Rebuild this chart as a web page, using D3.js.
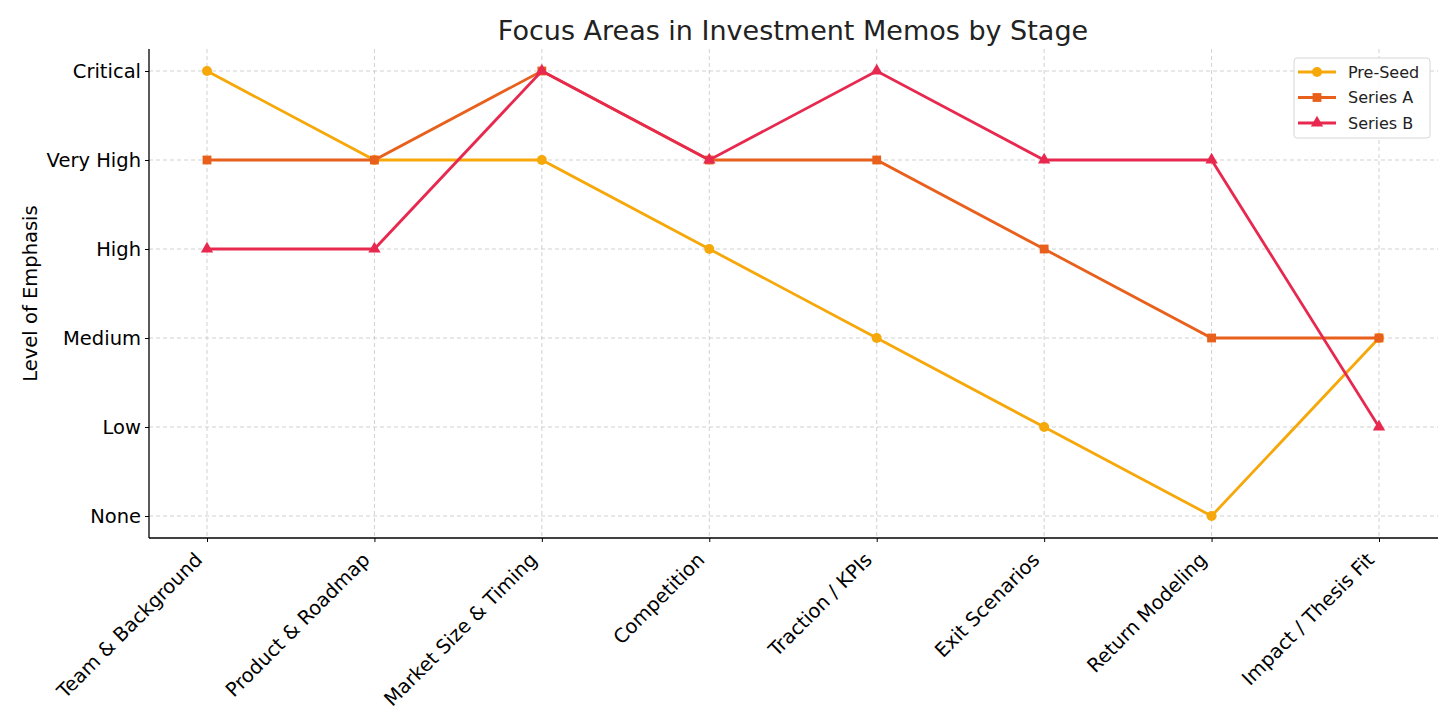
<!DOCTYPE html>
<html>
<head>
<meta charset="utf-8">
<script src="https://cdn.jsdelivr.net/npm/d3@7"></script>
<style>
  body { margin: 0; background: #fff; }
  svg, svg text { font-family: "DejaVu Sans", sans-serif; }
</style>
</head>
<body>
<svg id="chart" width="1456" height="728"></svg>
<script>
const categories = ["Team & Background", "Product & Roadmap", "Market Size & Timing", "Competition",
    "Traction / KPIs", "Exit Scenarios", "Return Modeling", "Impact / Thesis Fit"];
const levels = ["None", "Low", "Medium", "High", "Very High", "Critical"];
const preSeed = [5, 4, 4, 3, 2, 1, 0, 2];
const seriesA = [4, 4, 5, 4, 4, 3, 2, 2];
const seriesB = [3, 3, 5, 4, 5, 4, 4, 1];

const series = [
    { name: "Pre-Seed", values: preSeed, color: "#f6a80a", symbol: d3.symbolCircle },
    { name: "Series A", values: seriesA, color: "#e8601c", symbol: d3.symbolSquare },
    { name: "Series B", values: seriesB, color: "#e8294f", symbol: d3.symbolTriangle }
];

const svg = d3.select("#chart");
const plotLeft = 149, plotRight = 1438, plotTop = 49, plotBottom = 538;

const x = d3.scalePoint().domain(categories).range([207, 1379]);
const y = d3.scaleLinear().domain([0, 5]).range([516, 71]);

// grid
const grid = svg.append("g").attr("stroke", "#cccccc").attr("stroke-width", 0.9).attr("stroke-dasharray", "4,3");
grid.selectAll("line.v").data(categories).enter().append("line")
    .attr("x1", d => x(d)).attr("x2", d => x(d)).attr("y1", plotTop).attr("y2", plotBottom);
grid.selectAll("line.h").data(levels).enter().append("line")
    .attr("x1", plotLeft).attr("x2", plotRight).attr("y1", (d, i) => y(i)).attr("y2", (d, i) => y(i));

// axes
const xAxis = svg.append("g").attr("transform", `translate(0,${plotBottom})`)
    .call(d3.axisBottom(x).tickSizeOuter(0).tickSize(4).tickPadding(7));
xAxis.attr("font-family", "DejaVu Sans");
xAxis.select(".domain").attr("d", `M${plotLeft},0H${plotRight}`).attr("stroke", "#000").attr("stroke-width", 1.3);
xAxis.selectAll("text")
    .attr("font-size", 19.5).attr("fill", "#000")
    .attr("text-anchor", "end")
    .attr("y", 0).attr("dy", 0)
    .attr("transform", "translate(-4,23) rotate(-45)");

const yAxis = svg.append("g").attr("transform", `translate(${plotLeft},0)`)
    .call(d3.axisLeft(y).tickValues(d3.range(6)).tickFormat(i => levels[i]).tickSize(4).tickPadding(4).tickSizeOuter(0));
yAxis.attr("font-family", "DejaVu Sans");
yAxis.select(".domain").attr("d", `M0,${plotTop}V${plotBottom}`).attr("stroke", "#000").attr("stroke-width", 1.3);
yAxis.selectAll("text").attr("font-size", 19.5).attr("fill", "#000");

// lines
const line = d3.line().x((d, i) => x(categories[i])).y(d => y(d));
series.forEach(s => {
    svg.append("path").datum(s.values)
        .attr("d", line).attr("fill", "none")
        .attr("stroke", s.color).attr("stroke-width", 2.8);
    svg.selectAll(null).data(s.values).enter().append("path")
        .attr("d", d3.symbol().type(s.symbol).size(s.symbol === d3.symbolTriangle ? 66 : 78))
        .attr("transform", (d, i) => `translate(${x(categories[i])},${y(d)})`)
        .attr("fill", s.color);
});

// title and label
svg.append("text").attr("x", 793).attr("y", 40).attr("text-anchor", "middle")
    .attr("font-size", 27).attr("fill", "#222").text("Focus Areas in Investment Memos by Stage");
svg.append("text").attr("transform", `translate(37,${(plotTop + plotBottom) / 2}) rotate(-90)`)
    .attr("text-anchor", "middle").attr("font-size", 19.5).attr("fill", "#000").text("Level of Emphasis");

// legend
const legend = svg.append("g").attr("transform", "translate(1294,58)");
legend.append("rect").attr("width", 136).attr("height", 80).attr("rx", 3)
    .attr("fill", "#fff").attr("fill-opacity", 0.85).attr("stroke", "#d6d6d6");
series.forEach((s, i) => {
    const g = legend.append("g").attr("transform", `translate(0,${14 + i * 25.5})`);
    g.append("line").attr("x1", 4).attr("x2", 42).attr("stroke", s.color).attr("stroke-width", 2.8);
    g.append("path").attr("d", d3.symbol().type(s.symbol).size(s.symbol === d3.symbolTriangle ? 66 : 78))
        .attr("transform", "translate(23,0)").attr("fill", s.color);
    g.append("text").attr("x", 54).attr("dy", "0.35em").attr("font-size", 16).attr("fill", "#222").text(s.name);
});
</script>
</body>
</html>
